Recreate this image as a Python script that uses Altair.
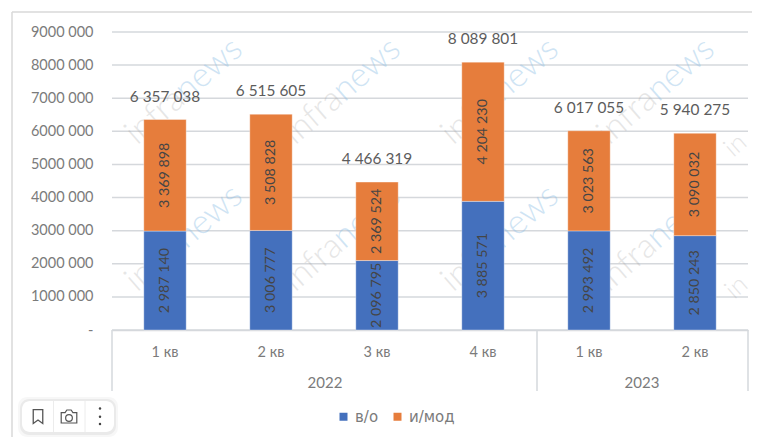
import altair as alt
import pandas as pd

years = ["2022", "2022", "2022", "2022", "2023", "2023"]
quarters = ["1 кв", "2 кв", "3 кв", "4 кв", "1 кв", "2 кв"]
vo = [2987140, 3006777, 2096795, 3885571, 2993492, 2850243]
imod = [3369898, 3508828, 2369524, 4204230, 3023563, 3090032]
totals = [6357038, 6515605, 4466319, 8089801, 6017055, 5940275]
series_names = ["в/о", "и/мод"]
series_colors = ["#4470bd", "#e67d3c"]
ticks = [0, 1000000, 2000000, 3000000, 4000000, 5000000, 6000000, 7000000, 8000000, 9000000]

keys = [f"{y}-{q}" for y, q in zip(years, quarters)]


def spaced(v):
    return f"{v:,}".replace(",", " ")


rows = []
for k, a, b in zip(keys, vo, imod):
    rows.append(dict(key=k, series=series_names[0], order=0, start=0, end=a, mid=a / 2, label=spaced(a)))
    rows.append(dict(key=k, series=series_names[1], order=1, start=a, end=a + b, mid=a + b / 2, label=spaced(b)))
df = pd.DataFrame(rows)
tot = pd.DataFrame(dict(key=keys, total=totals, label=[spaced(t) for t in totals]))

FONT = "Lato"
GRAY = "#7b7b7b"
LINE = "#d5d8dc"

xscale = alt.Scale(domain=keys, paddingInner=0.6, paddingOuter=0.3)
yscale = alt.Scale(domain=[0, 9000000], nice=False)
x_axis = alt.Axis(
    labelExpr="split(datum.value,'-')[1]", labelAngle=0, labelFont=FONT, labelFontSize=14.5,
    labelColor=GRAY, labelPadding=15, ticks=False, domainColor=LINE, domainWidth=1.5, grid=False)
y_axis = alt.Axis(
    values=ticks, grid=False, ticks=False, domain=False, labelFont=FONT, labelFontSize=14.5,
    labelColor=GRAY, labelPadding=19, labelOverlap=False,
    labelExpr="datum.value==0?'-':floor(datum.value/1000)+' 000'")
x = alt.X("key:N", scale=xscale, sort=keys, title=None, axis=x_axis)


def one():
    return alt.Chart(pd.DataFrame({"a": [0]}))


grid = alt.Chart(pd.DataFrame(dict(v=ticks))).mark_rule(color=LINE, strokeWidth=1.5).encode(
    y=alt.Y("v:Q", scale=yscale, title=None, axis=y_axis),
)

# watermark, underneath the bars
watermark = []
for wx in [68, 226, 384, 540]:
    for wy in [63, 210]:
        watermark.append(one().mark_text(text="infra", font=FONT, fontWeight=300, fontSize=34, angle=319, align="right",
                                         baseline="middle", color="#9a9a9a", opacity=0.24).encode(
            x=alt.value(wx), y=alt.value(wy)))
        watermark.append(one().mark_text(text="news", font=FONT, fontWeight=300, fontSize=34, angle=319, align="left",
                                         baseline="middle", color="#8fbfe6", opacity=0.42).encode(
            x=alt.value(wx), y=alt.value(wy)))
for ex, ey in [(616, 120), (617, 262)]:
    watermark.append(one().mark_text(text="in", font=FONT, fontWeight=300, fontSize=26, angle=319, align="left",
                                     baseline="middle", color="#9a9a9a", opacity=0.24).encode(
        x=alt.value(ex), y=alt.value(ey)))

bars = alt.Chart(df).mark_bar(stroke="#ffffff", strokeOpacity=0.35, strokeWidth=1).encode(
    x=x,
    y=alt.Y("start:Q", scale=yscale, title=None, axis=y_axis),
    y2="end:Q",
    color=alt.Color("series:N", scale=alt.Scale(domain=series_names, range=series_colors), sort=series_names,
                    legend=alt.Legend(title=None, orient="none", legendX=224, legendY=377, direction="horizontal",
                                      symbolType="square", symbolSize=64, symbolStrokeWidth=0,
                                      labelFont="DejaVu Sans", labelFontSize=15, labelColor=GRAY,
                                      columnPadding=11, labelOffset=4)),
)

inner = alt.Chart(df).mark_text(angle=270, font=FONT, fontSize=14.3, color="#454545", baseline="middle", align="center").encode(
    x=x,
    y=alt.Y("mid:Q", scale=yscale, title=None, axis=y_axis),
    text="label:N",
)

top = alt.Chart(tot).mark_text(font=FONT, fontSize=15.4, color="#5c5c5c", dy=-23, baseline="middle").encode(
    x=x,
    y=alt.Y("total:Q", scale=yscale, title=None, axis=y_axis),
    text="label:N",
)

layers = [grid] + watermark + [bars, inner, top]

# multi-level axis: separators and year labels
for sx in [0, 425, 636]:
    layers.append(one().mark_rule(color=LINE, strokeWidth=1.5).encode(
        x=alt.value(sx), y=alt.value(298), y2=alt.value(359)))
for label, cx in [("2022", 213), ("2023", 530)]:
    layers.append(one().mark_text(text=label, font=FONT, fontSize=15, color=GRAY).encode(
        x=alt.value(cx), y=alt.value(351)))

# outer frame of the screenshot
layers.append(one().mark_rule(color="#d8d8d8", strokeWidth=1.5).encode(
    x=alt.value(-100), x2=alt.value(640), y=alt.value(-20)))
layers.append(one().mark_rule(color="#d8d8d8", strokeWidth=1.5).encode(
    x=alt.value(-100), y=alt.value(-20), y2=alt.value(405)))

# floating toolbar
for grow, op in [(4, 0.03), (2, 0.05)]:
    layers.append(one().mark_rect(color="#000000", opacity=op, cornerRadius=9).encode(
        x=alt.value(-90 - grow), x2=alt.value(2 + grow), y=alt.value(369 - grow), y2=alt.value(400 + grow + 1)))
layers.append(one().mark_rect(color="#ffffff", cornerRadius=8).encode(
    x=alt.value(-90), x2=alt.value(2), y=alt.value(369), y2=alt.value(400)))
for dx_ in [-58.5, -27]:
    layers.append(one().mark_rule(color="#ececec", strokeWidth=1).encode(
        x=alt.value(dx_), y=alt.value(369), y2=alt.value(400)))
ICON = "#555555"
layers.append(one().mark_point(
    shape="M-0.55,-0.8 L0.55,-0.8 L0.55,0.8 L0,0.4 L-0.55,0.8 Z", size=300, color=ICON, filled=False, strokeWidth=1.3, opacity=1).encode(
    x=alt.value(-74), y=alt.value(384.5)))
layers.append(one().mark_point(
    shape="M-0.9,-0.45 L-0.45,-0.45 L-0.25,-0.75 L0.25,-0.75 L0.45,-0.45 L0.9,-0.45 L0.9,0.75 L-0.9,0.75 Z", size=300, color=ICON, filled=False, strokeWidth=1.2, opacity=1).encode(
    x=alt.value(-43), y=alt.value(384.5)))
layers.append(one().mark_point(shape="circle", size=45, color=ICON, filled=False, strokeWidth=1.2, opacity=1).encode(
    x=alt.value(-43), y=alt.value(386)))
for dy_ in [376.5, 384.7, 392]:
    layers.append(one().mark_point(shape="circle", size=6, color="#444444", filled=True, opacity=1).encode(
        x=alt.value(-12), y=alt.value(dy_)))

chart = alt.layer(*layers).resolve_scale(x="shared", y="shared").properties(
    width=636, height=298,
    padding={"left": 104, "top": 24, "right": 4, "bottom": 107},
    autosize=alt.AutoSizeParams(type="none"),
    background="#ffffff",
).configure_view(stroke=None)

chart.save("out.html", embed_options={"renderer": "svg", "actions": False})
